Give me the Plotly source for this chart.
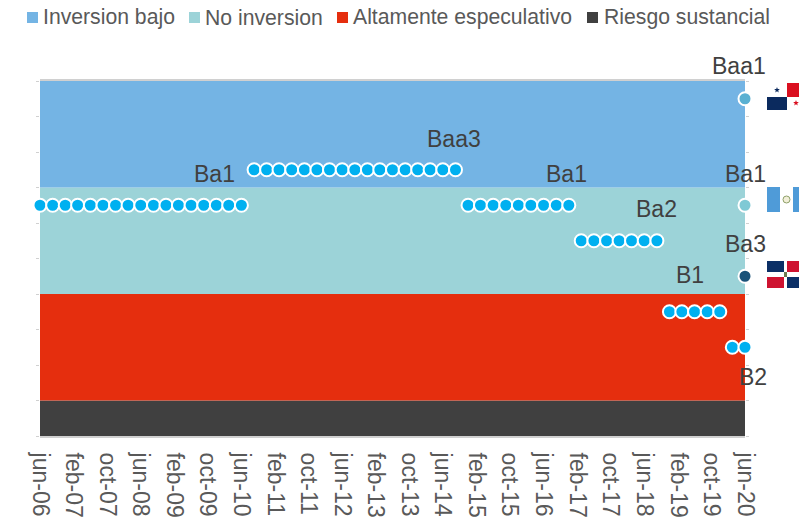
import math
import plotly.graph_objects as go

# ---- data ----
band_names = ["Inversion bajo", "No inversion", "Altamente especulativo", "Riesgo sustancial"]
band_colors = ["#74B4E4", "#9CD3D8", "#E52E0E", "#404040"]
band_heights = [3, 3, 3, 1]
band_x = ["2006-06-01", "2020-06-01"]

rating_levels = {"Baa1": 9.5, "Baa3": 7.5, "Ba1": 6.5, "Ba2": 5.5, "Ba3": 4.5, "B1": 3.5, "B2": 2.5}

dates_ba1_a = ["2006-06-01", "2006-09-01", "2006-12-01", "2007-03-01", "2007-06-01", "2007-09-01",
               "2007-12-01", "2008-03-01", "2008-06-01", "2008-09-01", "2008-12-01", "2009-03-01",
               "2009-06-01", "2009-09-01", "2009-12-01", "2010-03-01", "2010-06-01"]
dates_baa3 = ["2010-09-01", "2010-12-01", "2011-03-01", "2011-06-01", "2011-09-01", "2011-12-01",
              "2012-03-01", "2012-06-01", "2012-09-01", "2012-12-01", "2013-03-01", "2013-06-01",
              "2013-09-01", "2013-12-01", "2014-03-01", "2014-06-01", "2014-09-01"]
dates_ba1_b = ["2014-12-01", "2015-03-01", "2015-06-01", "2015-09-01", "2015-12-01", "2016-03-01",
               "2016-06-01", "2016-09-01", "2016-12-01"]
dates_ba2 = ["2017-03-01", "2017-06-01", "2017-09-01", "2017-12-01", "2018-03-01", "2018-06-01", "2018-09-01"]
dates_b1 = ["2018-12-01", "2019-03-01", "2019-06-01", "2019-09-01", "2019-12-01"]
dates_b2 = ["2020-03-01", "2020-06-01"]

main_segments = [("Ba1", dates_ba1_a), ("Baa3", dates_baa3), ("Ba1", dates_ba1_b),
                 ("Ba2", dates_ba2), ("B1", dates_b1), ("B2", dates_b2)]

peers = [("Baa1", "#5AB0D2"), ("Ba1", "#7FC9D5"), ("Ba3", "#1A5279")]
peer_date = "2020-06-01"

tick_vals = ["2006-06-01", "2007-02-01", "2007-10-01", "2008-06-01", "2009-02-01", "2009-10-01",
             "2010-06-01", "2011-02-01", "2011-10-01", "2012-06-01", "2013-02-01", "2013-10-01",
             "2014-06-01", "2015-02-01", "2015-10-01", "2016-06-01", "2017-02-01", "2017-10-01",
             "2018-06-01", "2019-02-01", "2019-10-01", "2020-06-01"]
tick_text = ["jun-06", "feb-07", "oct-07", "jun-08", "feb-09", "oct-09", "jun-10", "feb-11", "oct-11",
             "jun-12", "feb-13", "oct-13", "jun-14", "feb-15", "oct-15", "jun-16", "feb-17", "oct-17",
             "jun-18", "feb-19", "oct-19", "jun-20"]

# label, anchor date, anchor rating, xshift, yshift
labels = [("Ba1", "2010-06-01", "Ba1", -27, 31), ("Baa3", "2014-09-01", "Baa3", -2, 31),
          ("Ba1", "2016-12-01", "Ba1", -2, 31), ("Ba2", "2018-09-01", "Ba2", 0, 32),
          ("B1", "2019-03-01", "B1", 8, 37), ("B2", "2020-06-01", "B2", 8, -30),
          ("Baa1", "2020-06-01", "Baa1", -6, 33), ("Ba1", "2020-06-01", "Ba1", 0, 31),
          ("Ba3", "2020-06-01", "Ba3", 0, 32)]

legend_text_left = [41, 203, 351, 602]
legend_swatch_left = [27, 189, 337, 587]

# ---- layout constants (page pixels) ----
W, H = 799, 522
L, R, T, B = 40, 745, 81, 436
def px(x): return (x - L) / (R - L)
def py(y): return (B - y) / (B - T)

fig = go.Figure()

# stacked bands, bottom to top
for name, color, h in reversed(list(zip(band_names, band_colors, band_heights))):
    fig.add_trace(go.Scatter(x=band_x, y=[h, h], stackgroup="bands", mode="lines",
                             line=dict(width=0, color=color), fillcolor=color,
                             showlegend=False, hoverinfo="skip", name=name))

# main series
for rating, dates in main_segments:
    fig.add_trace(go.Scatter(x=dates, y=[rating_levels[rating]] * len(dates), mode="markers",
                             cliponaxis=False, showlegend=False,
                             marker=dict(size=13, color="#00B0F0", line=dict(color="white", width=2))))

# peers
for rating, color in peers:
    fig.add_trace(go.Scatter(x=[peer_date], y=[rating_levels[rating]], mode="markers",
                             cliponaxis=False, showlegend=False,
                             marker=dict(size=13, color=color, line=dict(color="white", width=2))))

annotations = [dict(x=d, y=rating_levels[r], xref="x", yref="y", text=t, showarrow=False,
                    xshift=xs, yshift=ys, font=dict(size=23, color="#404040"))
               for t, d, r, xs, ys in labels]

shapes = []
def rect(x0, y0, x1, y1, color):
    shapes.append(dict(type="rect", xref="paper", yref="paper", x0=px(x0), x1=px(x1),
                       y0=py(y0), y1=py(y1), fillcolor=color, line=dict(width=0), layer="above"))
def star(cx, cy, r, color):
    pts = []
    for i in range(10):
        a = -math.pi / 2 + i * math.pi / 5
        rr = r if i % 2 == 0 else r * 0.42
        pts.append((px(cx + rr * math.cos(a)), py(cy + rr * math.sin(a))))
    path = "M " + " L ".join(f"{a:.5f},{b:.5f}" for a, b in pts) + " Z"
    shapes.append(dict(type="path", xref="paper", yref="paper", path=path, fillcolor=color,
                       line=dict(width=0), layer="above"))

# legend
for name, color, tx, sx in zip(band_names, band_colors, legend_text_left, legend_swatch_left):
    rect(sx, 12, sx + 11, 23, color)
    annotations.append(dict(x=px(tx), y=py(17), xref="paper", yref="paper", text=name, showarrow=False,
                            xanchor="left", yanchor="middle", font=dict(size=21.2, color="#595959")))

# Panama
rect(767, 97, 787, 110, "#0B2A5E")
rect(787, 83, 799, 97, "#DA1020")
star(777, 90, 3, "#0B2A5E")
star(796, 103, 3, "#DA1020")
# Guatemala
rect(767, 187, 780, 212, "#4F9BD8")
rect(793, 187, 799, 212, "#4F9BD8")
shapes.append(dict(type="circle", xref="paper", yref="paper", x0=px(783), x1=px(790), y0=py(203), y1=py(196),
                   fillcolor="#F2EFD8", line=dict(color="#8FA06A", width=1), layer="above"))
# Dominican Republic
rect(767, 261, 784, 272, "#0B2F66")
rect(787, 261, 799, 272, "#CE1330")
rect(767, 277, 784, 288, "#CE1330")
rect(787, 277, 799, 288, "#0B2F66")
rect(784, 272, 787, 277, "#6E7A50")

fig.update_layout(
    width=W, height=H, autosize=False,
    margin=dict(l=L, r=W - R, t=T, b=H - B, autoexpand=False),
    paper_bgcolor="white", plot_bgcolor="white",
    font=dict(family="Liberation Sans, Arial, sans-serif", color="#595959"),
    showlegend=False,
    annotations=annotations, shapes=shapes,
    xaxis=dict(type="date", range=band_x, tickmode="array", tickvals=tick_vals, ticktext=tick_text,
               tickangle=90, tickfont=dict(size=23, color="#595959"), ticks="", showgrid=False, zeroline=False,
               showline=True, linecolor="#D0D0D0", linewidth=2, mirror=True, ticklabelstandoff=10),
    yaxis=dict(range=[0, 10], tickmode="linear", tick0=0, dtick=1, showticklabels=False, showgrid=False,
               zeroline=False, ticks="outside", ticklen=3, tickcolor="#D0D0D0", tickwidth=1, mirror="ticks"),
)

fig.write_html("out.html", config={"displayModeBar": False},
               post_script="document.body.style.margin='0';")
